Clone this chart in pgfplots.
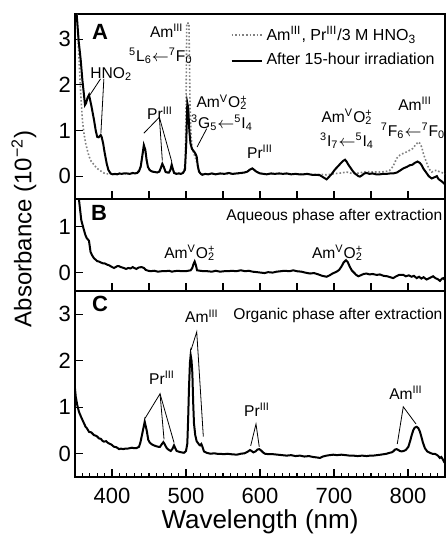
\documentclass[border=0pt]{standalone}
\usepackage{fontspec}
\setmainfont{Liberation Sans}
\usepackage{pgfplots}
\pgfplotsset{compat=1.18}

\newcommand{\SupSub}[2]{\rlap{\textsuperscript{#1}}\textsubscript{#2}}

\tikzset{lab/.style={font=\fontsize{7.8}{9}\selectfont, inner sep=0pt},
         pnl/.style={font=\bfseries\fontsize{11}{12}\selectfont, inner sep=0pt},
         lead/.style={line width=0.4pt}}

\pgfplotsset{
  panel/.style={
    scale only axis, width=185pt,
    xmin=350, xmax=850,
    axis line style={line width=0.7pt},
    every tick/.style={line width=0.6pt, black},
    major tick length=4pt, minor tick length=2.2pt,
    tick align=inside, xtick pos=bottom, ytick pos=left,
    clip mode=individual,
    tick label style={font=\fontsize{11}{12}\selectfont},
    yticklabel style={xshift=1.5pt},
    /pgf/number format/assume math mode=true,
  },
  spec/.style={black, line width=1pt, no markers},
  refline/.style={gray, line width=0.8pt, densely dotted, no markers},
}

\begin{document}
\begin{tikzpicture}
% ---------------- panel A ----------------
\begin{axis}[panel, name=A, height=92.5pt,
  ymin=-0.5, ymax=3.55, ytick={0,1,2,3},
  xtick={400,450,...,800}, xticklabels={},
  legend style={draw=none, fill=none, at={(1,1)}, anchor=north east,
    font=\fontsize{8}{9}\selectfont, row sep=1pt, yshift=-2pt},
  legend cell align=left,
  legend image code/.code={\draw[#1] (0pt,0pt) -- (15pt,0pt);},
]
\addplot[refline] coordinates {
(350,4.5)(352.5,3.6)(355,2.7)(357.7,1.81)(360,1.23)(362,0.95)(364.4,0.72)(367,0.55)
(369,0.43)(372,0.32)(375.7,0.25)(379,0.18)(382.4,0.14)(386,0.1)(389,0.07)(392,0.05)
(398,0.05)(405,0.04)(412,0.05)(420,0.05)(428,0.06)(434,0.07)(438.8,0.2)(441,0.43)
(443,0.66)(445,0.56)(447,0.33)(449,0.18)(452,0.12)(458,0.08)(464,0.1)(466,0.18)
(468,0.26)(470,0.19)(472.5,0.09)(477,0.08)(479,0.14)(480.7,0.23)(482,0.15)(484,0.07)
(490,0.06)(494,0.07)(497,0.1)(499,0.3)(500,1.4)(501,3.35)(504,3.35)(505.5,1.5)
(507,0.85)(508.3,0.62)(510.5,0.5)(512.8,0.4)(515,0.28)(517.6,0.1)(520,0.05)(530,0.05)
(545,0.05)(560,0.05)(575,0.06)(583,0.1)(589,0.16)(592,0.13)(597,0.08)(605,0.05)
(620,0.05)(640,0.05)(660,0.04)(680,0.04)(690,0.03)(703.6,0.06)(710,0.07)(717,0.09)
(724,0.06)(730.6,0.06)(737,0.08)(744,0.1)(752,0.09)(762,0.09)(769,0.1)(775,0.12)
(780,0.22)(784.7,0.39)(789,0.46)(793.7,0.5)(798,0.53)(802.7,0.57)(806,0.6)(810,0.68)
(814,0.75)(816,0.72)(818.5,0.64)(821,0.48)(825,0.3)(828,0.17)(832,0.09)(836,0.12)
(839,0.13)(842,0.1)(845.6,0.08)(850,0.05)
};
\addlegendentry{Am\textsuperscript{III}, Pr\textsuperscript{III}/3 M HNO\textsubscript{3}}
\addplot[spec] coordinates {
(350,4.2)(352,3.6)(355,2.95)(357.7,2.55)(360,2.1)(362,1.8)(363.5,1.56)(365,1.6)
(367,1.72)(368.9,1.78)(370,1.7)(372,1.55)(375.7,1.23)(378,1.0)(380,0.86)(382,0.85)
(384.7,0.9)(386,0.86)(388,0.72)(390,0.52)(392.8,0.28)(395,0.14)(398,0.06)(401,0.04)
(404,0.05)(407,0.04)(410,0.06)(413,0.05)(416,0.06)(420,0.06)(424,0.05)(428,0.07)
(431,0.06)(434,0.07)(436.5,0.11)(438.8,0.21)(441,0.45)(443,0.68)(445,0.58)(446.8,0.35)
(448.6,0.2)(451,0.13)(454.5,0.1)(458,0.09)(461,0.08)(464,0.1)(466,0.18)(468,0.27)
(470,0.2)(472.5,0.09)(475,0.08)(477,0.08)(479,0.14)(480.7,0.25)(482,0.17)(483.9,0.07)
(487,0.05)(490,0.06)(492.9,0.05)(496,0.07)(498.6,0.14)(500.3,0.7)(501.8,1.6)(503,1.5)
(504.5,1.0)(506,0.72)(508,0.6)(510.8,0.54)(512.5,0.5)(514.4,0.43)(516,0.22)(517.6,0.1)
(520,0.05)(522,0.03)(526,0.05)(530,0.04)(535,0.06)(540,0.04)(546,0.06)(552,0.05)
(558,0.07)(563,0.05)(568.6,0.06)(574,0.07)(579,0.08)(583,0.1)(586,0.14)(589.6,0.17)
(592,0.14)(595,0.1)(600,0.06)(605,0.05)(609,0.04)(615,0.06)(620,0.05)(626,0.06)
(631,0.05)(636,0.06)(642,0.04)(648,0.05)(653,0.04)(658.5,0.04)(664,0.05)(670,0.03)
(676,0.03)(681,0.02)(686,-0.03)(690,-0.07)(693,-0.02)(697,0.05)(701,0.14)(705,0.21)
(709,0.28)(712,0.33)(714.9,0.36)(717,0.32)(719,0.26)(721.6,0.2)(725,0.12)(728,0.06)
(730.6,0.03)(733,0.0)(735,-0.01)(738,0.02)(741,0.06)(744,0.07)(748,0.05)(752,0.06)
(757,0.04)(762,0.04)(766,0.05)(771,0.05)(776,0.06)(780,0.06)(785,0.08)(789,0.12)
(793.7,0.17)(798,0.2)(802.7,0.24)(806,0.25)(809,0.29)(813,0.32)(816,0.29)(818.5,0.24)
(821,0.16)(825,0.07)(828,0.0)(832,-0.05)(835,-0.03)(839,0.0)(841,-0.06)(843.5,-0.09)
(846,-0.12)(848.6,-0.16)(850,-0.15)
};
\addlegendentry{After 15-hour irradiation}
\node[pnl] at (axis cs:384,3.15) {A};
\node[lab] at (axis cs:399,2.24) {HNO\textsubscript{2}};
\draw[lead] (axis cs:384.5,2.13) -- (axis cs:370.3,1.78);
\draw[lead] (axis cs:389,2.13) -- (axis cs:385,0.94);
\node[lab] at (axis cs:474,3.18) {Am\textsuperscript{III}};
\node[lab] at (axis cs:466,2.63) {\textsuperscript{5}L\textsubscript{6}$\leftarrow$\textsuperscript{7}F\textsubscript{0}};
\node[lab] at (axis cs:465,1.38) {Pr\textsuperscript{III}};
\draw[lead] (axis cs:443,0.94) -- (axis cs:464,1.29) -- (axis cs:468,0.34);
\draw[lead] (axis cs:464,1.29) -- (axis cs:480.7,0.32);
\node[lab] at (axis cs:548.6,1.62) {Am\textsuperscript{V}O\SupSub{+}{2}};
\node[lab] at (axis cs:548.6,1.17) {\textsuperscript{3}G\textsubscript{5}$\leftarrow$\textsuperscript{5}I\textsubscript{4}};
\draw[lead] (axis cs:528,1.04) -- (axis cs:515,0.64);
\node[lab] at (axis cs:600,0.53) {Pr\textsuperscript{III}};
\node[lab] at (axis cs:717.6,1.3) {Am\textsuperscript{V}O\SupSub{+}{2}};
\node[lab] at (axis cs:717.6,0.77) {\textsuperscript{3}I\textsubscript{7}$\leftarrow$\textsuperscript{5}I\textsubscript{4}};
\node[lab] at (axis cs:809.5,1.58) {Am\textsuperscript{III}};
\node[lab] at (axis cs:806.8,0.99) {\textsuperscript{7}F\textsubscript{6}$\leftarrow$\textsuperscript{7}F\textsubscript{0}};
\end{axis}

% ---------------- panel B ----------------
\begin{axis}[panel, name=B, at={(A.south west)}, anchor=north west, height=46pt,
  ymin=-0.4, ymax=1.6, ytick={0,1},
  xtick={400,450,...,800}, xticklabels={},
]
\addplot[spec] coordinates {
(352,2.2)(355.4,1.58)(358.5,1.14)(362,0.93)(364,0.82)(365.8,0.75)(367.5,0.72)(368.9,0.69)
(371,0.45)(373,0.38)(375.7,0.31)(378,0.28)(380,0.25)(382.4,0.24)(385,0.22)(388,0.2)
(390,0.2)(393.7,0.17)(396,0.16)(399,0.13)(402.7,0.1)(405,0.12)(407,0.14)(409.5,0.14)
(412,0.12)(416,0.1)(419,0.08)(422,0.1)(425,0.09)(428,0.12)(430,0.1)(433,0.08)
(436,0.11)(440,0.12)(443.2,0.1)(445.5,0.06)(449,0.04)(452,0.03)(457,0.04)(462,0.02)
(467,0.03)(472,0.03)(477,0.04)(481,0.02)(484,0.03)(489,0.04)(494,0.03)(499,0.03)
(503,0.04)(506.3,0.05)(508.5,0.1)(510,0.18)(511.7,0.24)(513,0.18)(515,0.05)(519,0.04)
(524,0.03)(529,0.03)(535,0.02)(540,0.04)(546,0.02)(551.6,0.03)(557,0.03)(562,0.04)
(568,0.03)(574,0.05)(580,0.03)(585,0.04)(590,0.02)(596,0.01)(601,0.0)(606,-0.01)
(611,0.01)(617,0.0)(622.5,0.02)(628,0.03)(633,0.04)(640,0.03)(645,0.05)(650,0.03)
(656,0.02)(661,0.0)(667.6,-0.02)(673,-0.01)(679,-0.04)(684,-0.07)(690,-0.09)(694,-0.06)
(698,-0.02)(703.6,0.02)(707,0.06)(710,0.13)(713,0.22)(716.2,0.27)(718.5,0.23)(721,0.14)
(723.9,0.05)(727,0.0)(730,-0.05)(732.9,-0.08)(736,-0.06)(740,-0.03)(744,-0.02)(748,-0.04)
(752,-0.03)(757.7,-0.05)(762,-0.04)(767,-0.07)(772,-0.08)(776,-0.1)(780,-0.12)(784,-0.08)
(788,-0.05)(793.7,-0.05)(797,-0.08)(801,-0.06)(805,-0.09)(808,-0.07)(811.7,-0.12)(815,-0.09)
(818,-0.13)(821,-0.1)(825,-0.15)(829,-0.12)(834,-0.08)(837,-0.12)(840,-0.14)(843.2,-0.18)
(846,-0.13)(847.7,-0.12)(850,-0.16)
};
\node[pnl] at (axis cs:382.4,1.3) {B};
\node[lab, anchor=east] at (axis cs:847,1.21) {Aqueous phase after extraction};
\node[lab] at (axis cs:505,0.43) {Am\textsuperscript{V}O\SupSub{+}{2}};
\node[lab] at (axis cs:704.7,0.43) {Am\textsuperscript{V}O\SupSub{+}{2}};
\end{axis}

% ---------------- panel C ----------------
\begin{axis}[panel, name=C, at={(B.south west)}, anchor=north west, height=93pt,
  ymin=-0.5, ymax=3.5, ytick={0,1,2,3},
  xtick={400,500,...,800}, minor xtick={350,360,...,850},
  xticklabel style={yshift=-2pt},
  xlabel={Wavelength (nm)},
  xlabel style={font=\fontsize{13}{14}\selectfont, at={(axis description cs:0.5,0)},
    anchor=center, yshift=-22.5pt},
]
\addplot[spec] coordinates {
(350,1.4)(351,1.23)(353,1.05)(355.4,0.9)(358,0.8)(360,0.73)(362,0.66)(364.3,0.58)
(366,0.55)(369,0.47)(372,0.46)(375.7,0.4)(378,0.39)(380,0.37)(382.4,0.33)(385,0.32)
(387,0.28)(389,0.26)(392,0.27)(394,0.24)(396,0.22)(399,0.2)(402.7,0.15)(406,0.14)
(409.5,0.1)(412,0.11)(415,0.1)(418,0.11)(420.8,0.11)(424,0.12)(427,0.13)(429.9,0.12)
(433,0.12)(436.5,0.15)(438.5,0.25)(441,0.44)(444.2,0.69)(446.9,0.5)(449,0.3)(451,0.24)
(454,0.2)(456.7,0.18)(460,0.16)(462.5,0.15)(464.9,0.15)(467,0.2)(469.4,0.25)(471,0.21)
(474,0.12)(477,0.08)(479.3,0.06)(481.5,0.1)(483.8,0.18)(485.5,0.12)(487.4,0.06)(491,0.04)
(494,0.03)(497.3,0.02)(500,0.06)(501.8,0.22)(503,0.8)(504,1.4)(505.3,1.95)(506.3,2.12)
(507.5,2.0)(508.6,1.73)(509.7,1.1)(510.8,0.65)(512.5,0.4)(514.4,0.27)(517.6,0.2)(519,0.18)
(520.7,0.21)(522,0.16)(524.3,0.05)(528,0.02)(533.3,0.0)(538,0.01)(542,0.0)(546,0.0)
(551,-0.01)(556,0.0)(561,-0.01)(568.7,-0.02)(574,0.0)(579,0.01)(583,0.04)(586.5,0.08)
(588.5,0.06)(591,0.03)(594,0.05)(596.5,0.09)(599,0.1)(601.5,0.07)(604,0.03)(606.8,0.0)
(612,-0.01)(618,-0.01)(624,-0.02)(630,-0.03)(636,-0.04)(642,-0.03)(648,-0.05)(654,-0.04)
(660,-0.06)(666,-0.05)(672,-0.07)(677,-0.08)(681,-0.09)(685,-0.06)(690,-0.04)(694,-0.03)
(699,-0.02)(704,-0.03)(710,-0.02)(716,-0.03)(721,-0.04)(726,-0.04)(732,-0.05)(738,-0.04)
(744,-0.05)(749,-0.04)(753,-0.04)(758,-0.03)(763,-0.02)(767,-0.01)(771,0.0)(775,0.02)
(778,0.03)(780,0.05)(782.5,0.09)(784.7,0.1)(787,0.08)(789,0.06)(791.4,0.05)(794,0.06)
(797,0.08)(800.5,0.15)(803,0.28)(805,0.4)(807.2,0.51)(809,0.56)(811.7,0.58)(814,0.55)
(816,0.48)(818,0.37)(820,0.25)(822.8,0.12)(826,0.05)(829.6,0.02)(833,0.0)(836,0.0)
(838.6,-0.02)(841,-0.05)(843,-0.09)(845,-0.07)(847,-0.12)(848.6,-0.17)(850,-0.15)
};
\node[pnl] at (axis cs:384,3.22) {C};
\node[lab, anchor=east] at (axis cs:847,2.98) {Organic phase after extraction};
\node[lab] at (axis cs:521.6,2.96) {Am\textsuperscript{III}};
\draw[lead] (axis cs:506.8,2.23) -- (axis cs:514.5,2.62) -- (axis cs:523.4,0.37);
\node[lab] at (axis cs:467.6,1.63) {Pr\textsuperscript{III}};
\draw[lead] (axis cs:444.6,0.76) -- (axis cs:464.9,1.29) -- (axis cs:470.3,0.31);
\draw[lead] (axis cs:464.9,1.29) -- (axis cs:483.8,0.24);
\node[lab] at (axis cs:596,0.94) {Pr\textsuperscript{III}};
\draw[lead] (axis cs:587.4,0.17) -- (axis cs:594.6,0.64) -- (axis cs:599,0.15);
\node[lab] at (axis cs:797.3,1.31) {Am\textsuperscript{III}};
\draw[lead] (axis cs:785.5,0.21) -- (axis cs:793.6,1.01) -- (axis cs:810.8,0.64);
\end{axis}

\node[rotate=90, font=\fontsize{12}{14}\selectfont, inner sep=0pt]
  at ([xshift=-25.5pt,yshift=8pt]B.west) {Absorbance (10\textsuperscript{−2})};

\pgfresetboundingbox
\path[use as bounding box] ([xshift=-37.5pt,yshift=7pt]A.north west)
  rectangle ([yshift=-31.5pt]C.south east);
\end{tikzpicture}
\end{document}
